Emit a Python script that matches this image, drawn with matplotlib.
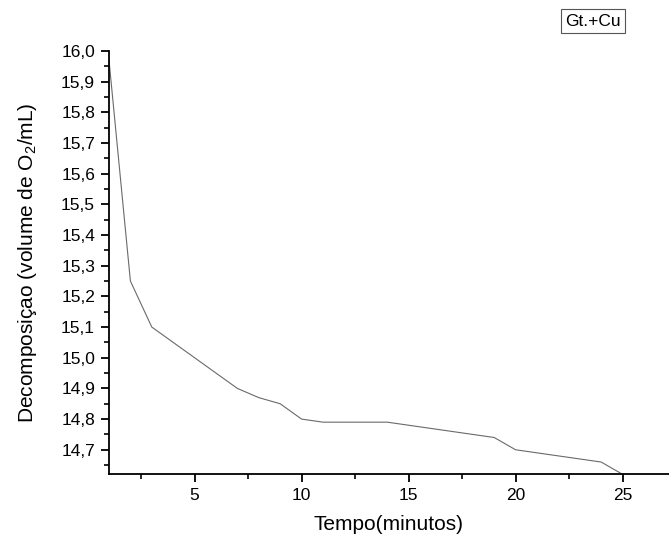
import matplotlib
matplotlib.use("Agg")
import matplotlib.pyplot as plt
from matplotlib.ticker import MultipleLocator, FuncFormatter

plt.rcParams['font.family'] = ['Liberation Sans', 'DejaVu Sans']

tempo = [1, 2, 3, 7, 8, 9, 10, 11, 14, 19, 20, 24, 25]
volume = [15.97, 15.25, 15.10, 14.90, 14.87, 14.85, 14.80, 14.79, 14.79, 14.74, 14.70, 14.66, 14.62]
y_ticks = [14.7, 14.8, 14.9, 15.0, 15.1, 15.2, 15.3, 15.4, 15.5, 15.6, 15.7, 15.8, 15.9, 16.0]
x_ticks = [5, 10, 15, 20, 25]

fig = plt.figure(figsize=(6.69, 5.43), dpi=100)
ax = fig.add_axes([109/669, 1-474/543, 1-109/669, (474-51)/543])
ax.plot(tempo, volume, color='#6a6a6a', lw=0.8)

ax.set_xlim(1, 27.17)
ax.set_ylim(14.621, 16.0)
ax.set_xticks(x_ticks)
ax.set_yticks(y_ticks)
ax.xaxis.set_minor_locator(MultipleLocator(2.5))
ax.yaxis.set_minor_locator(MultipleLocator(0.05))
ax.yaxis.set_major_formatter(FuncFormatter(lambda v, p: f"{v:.1f}".replace('.', ',')))
ax.xaxis.set_major_formatter(FuncFormatter(lambda v, p: f"{int(round(v))}"))

for s in ['top', 'right']:
    ax.spines[s].set_visible(False)
for s in ['left', 'bottom']:
    ax.spines[s].set_linewidth(1.3)
ax.tick_params(which='major', direction='out', length=6, width=1.3, labelsize=12.5, pad=4)
ax.tick_params(which='minor', direction='out', length=3.5, width=1.2)

ax.set_xlabel('Tempo(minutos)', fontsize=15, labelpad=9)
ax.set_ylabel('Decomposiçao (volume de O$\\mathregular{_2}$/mL)', fontsize=15, labelpad=16)

fig.text(593/669, 1-21/543, 'Gt.+Cu', fontsize=12.5, ha='center', va='center',
         bbox=dict(boxstyle='square,pad=0.25', fc='white', ec='#555555', lw=0.8))

fig.savefig('out.png', dpi=100)
